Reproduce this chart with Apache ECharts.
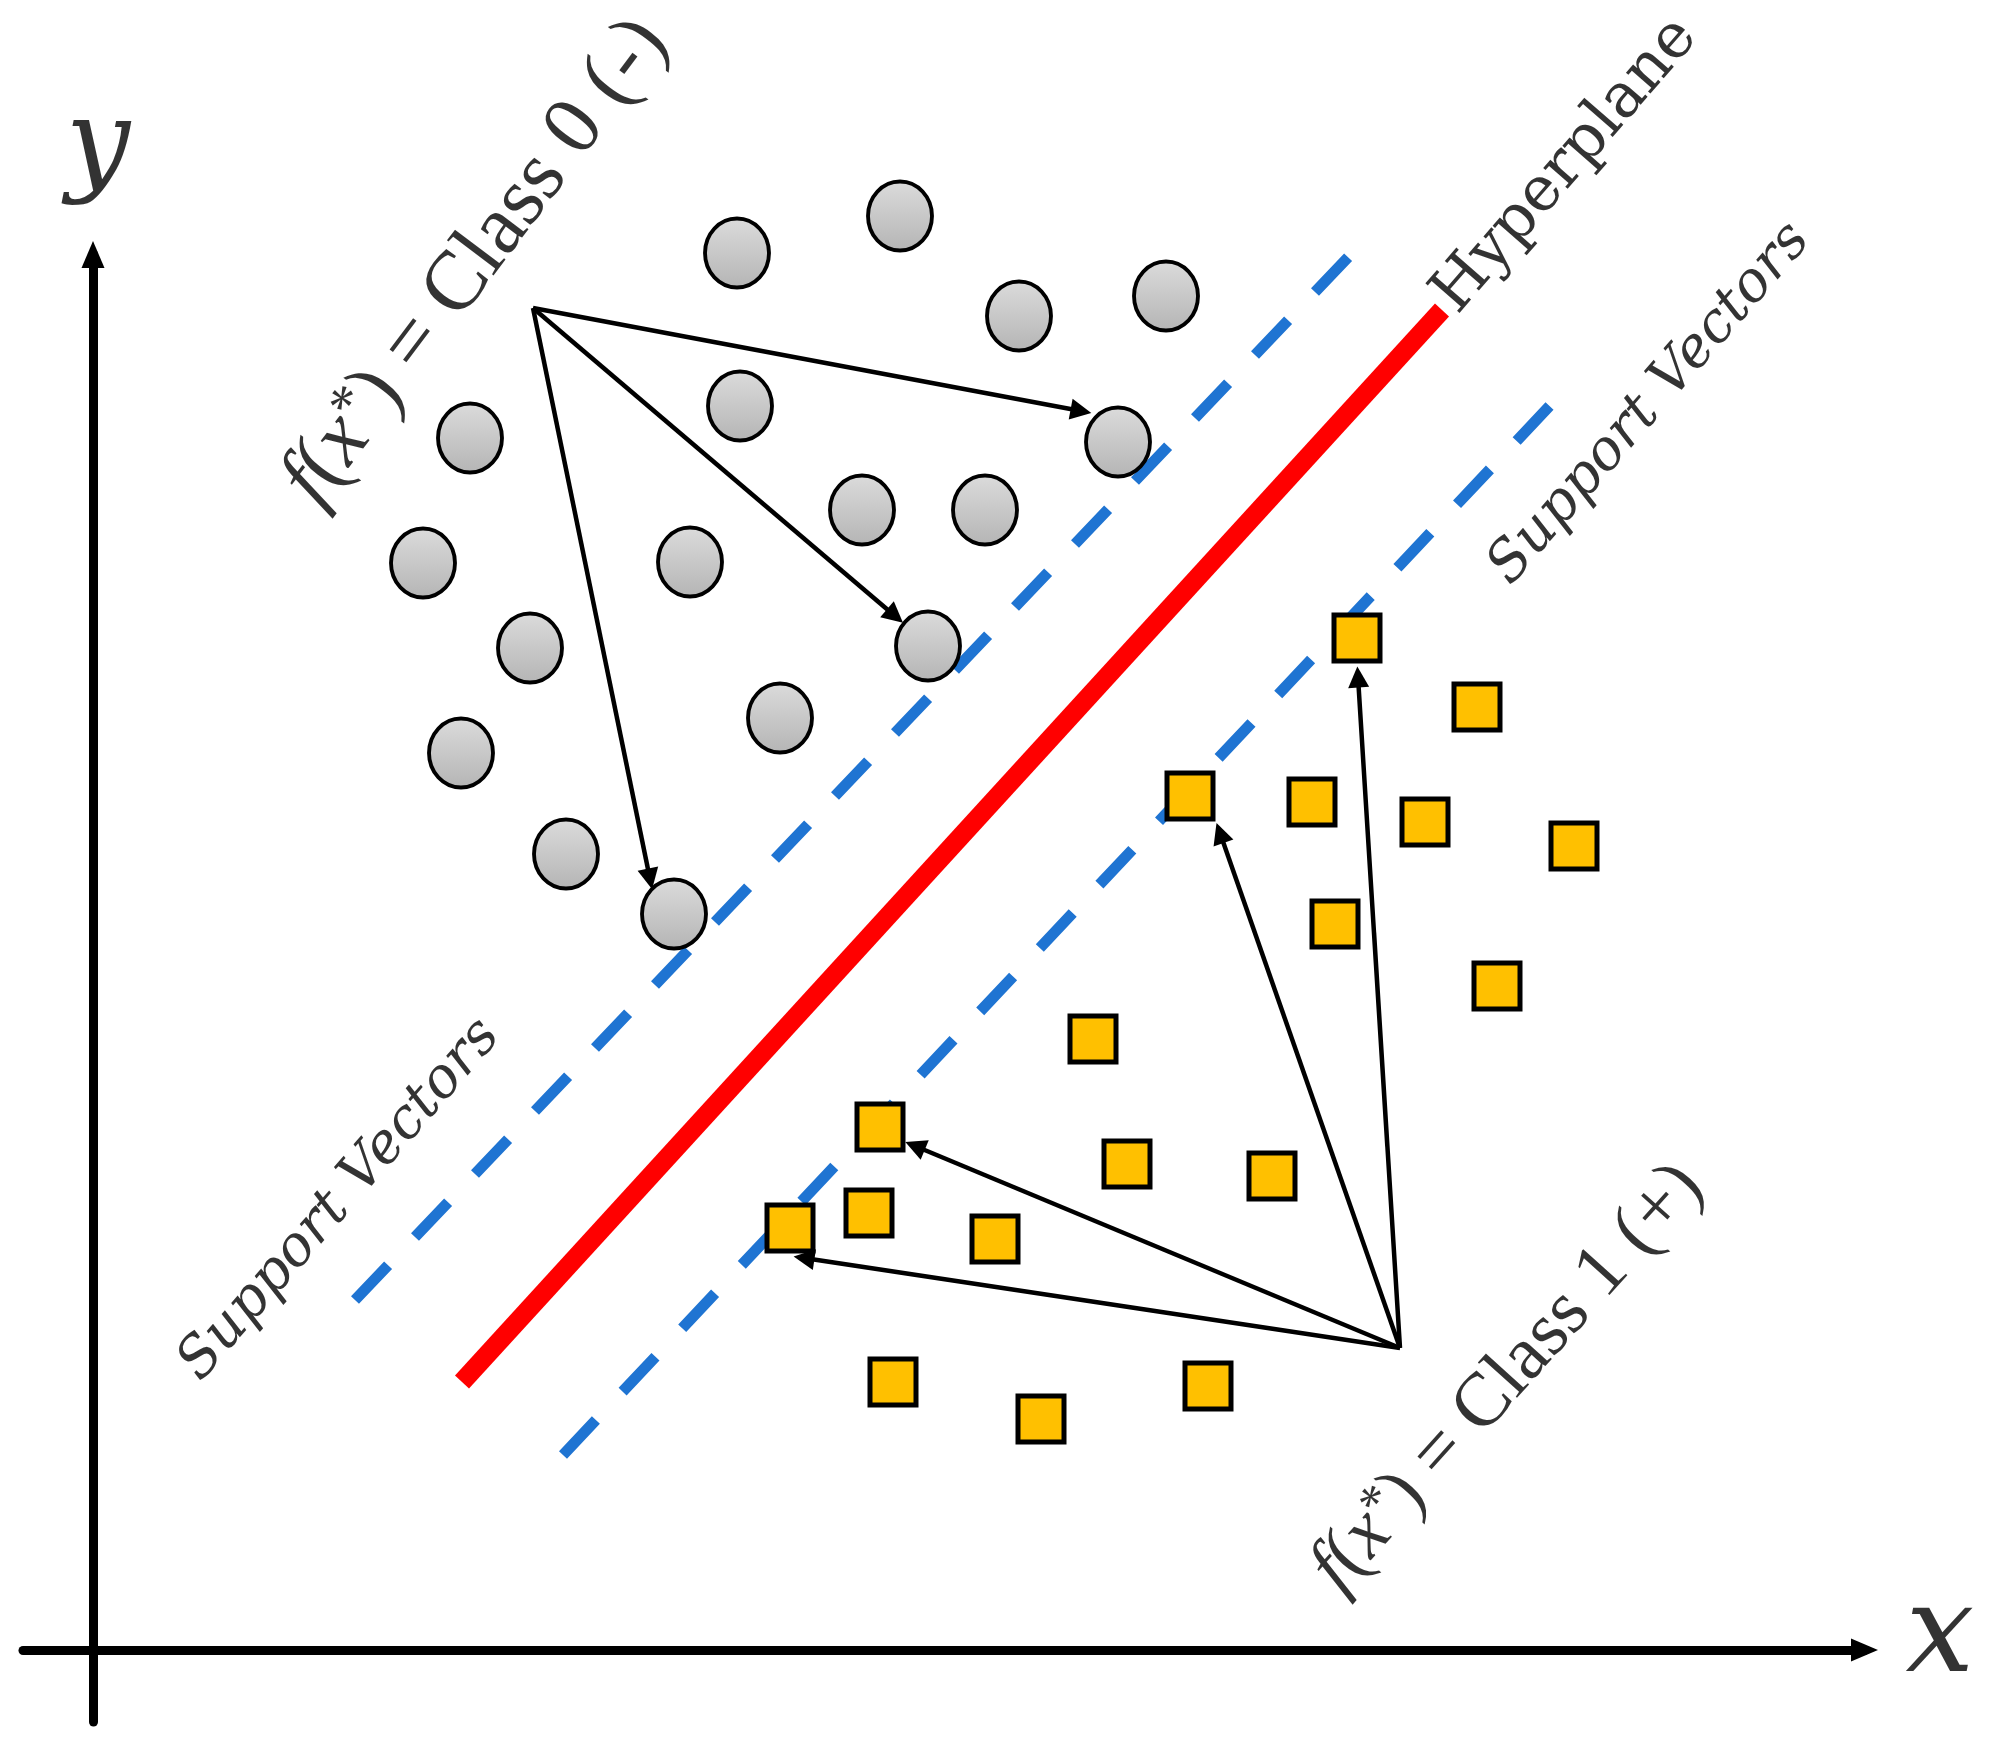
<!DOCTYPE html>
<html><head><meta charset="utf-8">
<script src="https://cdn.jsdelivr.net/npm/echarts@6/dist/echarts.min.js"></script>
<style>html,body{margin:0;padding:0;background:#fff}#c{width:1990px;height:1739px}</style>
</head><body><div id="c"></div>
<script>
// ---- data (units measured from the axes origin) ----
const class0X = [807, 644, 926, 1073, 647, 377, 1025, 769, 892, 330, 597, 437, 835, 687, 368, 473, 581];
const class0Y = [1434, 1397, 1334, 1354, 1244, 1212, 1208, 1140, 1140, 1087, 1088, 1002, 1004, 932, 897, 796, 736];
const class1X = [1264, 1384, 1097, 1219, 1332, 1481, 1242, 1404, 1000, 787, 1034, 1179, 776, 697, 902, 800, 948, 1115];
const class1Y = [1012, 943, 854, 848, 828, 804, 726, 664, 611, 523, 486, 474, 437, 422, 411, 268, 231, 264];

const hyperplaneX = [369, 1349];
const hyperplaneY = [268, 1340];
const marginUpperX = [262, 1262];
const marginUpperY = [350, 1400];
const marginLowerX = [470, 1465];
const marginLowerY = [195, 1253];

const arrowFrom0 = [440, 1342];
const arrowTo0X = [988, 802, 557];
const arrowTo0Y = [1239, 1034, 771];
const arrowFrom1 = [1307, 302];
const arrowTo1X = [1265, 1127, 822, 711];
const arrowTo1Y = [973, 817, 504, 392];

const labelTexts = [
  '{i|f}({i|x}{s|*}) = Class 0 (-)',
  'Hyperplane',
  'Support Vectors',
  'Support Vectors',
  '{j|f}({j|x}{t|*}) = Class 1 (+)',
  'y',
  'x'
];
const labelX = [383, 1473, 1557, 247, 1415, 5, 1847];
const labelY = [1388, 1484, 1246, 450, 272, 1500, 11];
const labelAngle = [53, 49, 49, 49, 48, 0, 0];

// ---- build ----
const pairs = (xs, ys) => xs.map((x, i) => [x, ys[i]]);
const SERIF = "'Liberation Serif', 'Times New Roman', serif";
const DEJAVU = "'DejaVu Serif', serif";
const mathRich = (size) => ({
  i: {fontFamily: SERIF, fontStyle: 'italic', fontSize: size, color: '#000'},
  j: {fontFamily: SERIF, fontStyle: 'italic', fontSize: size, color: '#000'},
  s: {fontFamily: SERIF, fontSize: Math.round(size * 0.68), color: '#000', verticalAlign: 'top'},
  t: {fontFamily: SERIF, fontSize: Math.round(size * 0.68), color: '#000', verticalAlign: 'top'}
});
const labelStyles = [
  {fontFamily: SERIF, fontSize: 84, rich: mathRich(84)},
  {fontFamily: DEJAVU, fontSize: 62},
  {fontFamily: DEJAVU, fontStyle: 'italic', fontSize: 56},
  {fontFamily: DEJAVU, fontStyle: 'italic', fontSize: 56},
  {fontFamily: SERIF, fontSize: 76, rich: mathRich(76)},
  {fontFamily: DEJAVU, fontStyle: 'italic', fontSize: 114},
  {fontFamily: DEJAVU, fontStyle: 'italic', fontSize: 122}
];
const labelData = labelTexts.map((t, i) => ({
  value: [labelX[i], labelY[i]],
  label: Object.assign({
    show: true, position: 'inside', formatter: t, rotate: labelAngle[i],
    color: '#000', align: 'center', verticalAlign: 'middle'
  }, labelStyles[i])
}));

const arrowData = [];
arrowTo0X.forEach((x, i) => arrowData.push({coords: [arrowFrom0, [x, arrowTo0Y[i]]]}));
arrowTo1X.forEach((x, i) => arrowData.push({coords: [arrowFrom1, [x, arrowTo1Y[i]]]}));

const hiddenAxis = {
  type: 'value',
  axisTick: {show: false}, axisLabel: {show: false}, splitLine: {show: false},
  axisLine: {onZero: true, symbol: ['none', 'triangle'], symbolSize: [23, 27],
             lineStyle: {color: '#000', width: 9}}
};

const chart = echarts.init(document.getElementById('c'), null, {renderer: 'canvas'});
chart.setOption({
  animation: false,
  backgroundColor: '#fff',
  grid: {left: 23, right: 125.5, top: 254.5, bottom: 17},
  xAxis: Object.assign({}, hiddenAxis, {min: -70, max: 1771.5}),
  yAxis: Object.assign({}, hiddenAxis, {min: -72, max: 1395.5}),
  series: [
    {type: 'line', data: pairs(marginUpperX, marginUpperY), symbol: 'none', clip: false, z: 2,
     lineStyle: {color: '#1f74d2', width: 11, type: [48, 39], cap: 'butt'}},
    {type: 'line', data: pairs(marginLowerX, marginLowerY), symbol: 'none', clip: false, z: 2,
     lineStyle: {color: '#1f74d2', width: 11, type: [48, 39], cap: 'butt'}},
    {type: 'line', data: pairs(hyperplaneX, hyperplaneY), symbol: 'none', clip: false, z: 2,
     lineStyle: {color: '#ff0000', width: 19, cap: 'butt'}},
    {type: 'scatter', data: pairs(class0X, class0Y), symbol: 'circle', symbolSize: [64, 69],
     clip: false, z: 3,
     itemStyle: {
       color: {type: 'linear', x: 0, y: 0, x2: 0, y2: 1,
               colorStops: [{offset: 0, color: '#dcdcdc'}, {offset: 1, color: '#b4b4b4'}]},
       borderColor: '#000', borderWidth: 4, opacity: 1}},
    {type: 'scatter', data: pairs(class1X, class1Y), symbol: 'rect', symbolSize: 46,
     clip: false, z: 3,
     itemStyle: {color: '#ffc000', borderColor: '#000', borderWidth: 5, opacity: 1}},
    {type: 'lines', coordinateSystem: 'cartesian2d', data: arrowData, clip: false, z: 4,
     symbol: ['none', 'triangle'], symbolSize: 21,
     lineStyle: {color: '#000', width: 4.5, opacity: 1, curveness: 0}},
    {type: 'scatter', data: labelData, symbolSize: 1, clip: false, z: 5, silent: true,
     itemStyle: {color: 'rgba(0,0,0,0)'}}
  ]
});
</script>
</body></html>
